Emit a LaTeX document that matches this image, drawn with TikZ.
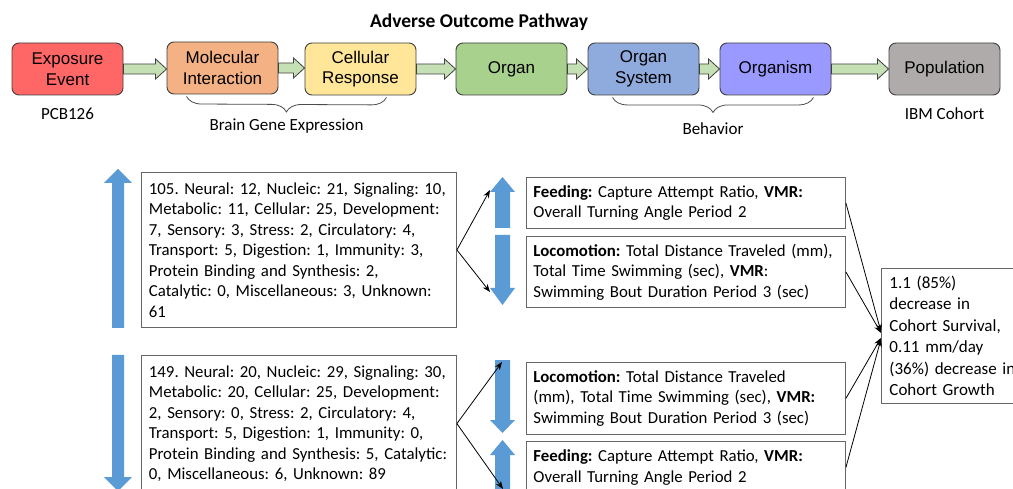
\documentclass[tikz,border=0pt]{standalone}
\usepackage{fontspec}
\setmainfont{Carlito}
\newfontfamily\arialfont{Liberation Sans}
\usepackage{tikz}
\usetikzlibrary{positioning,arrows.meta,calc,decorations.pathreplacing}

\definecolor{cExpo}{HTML}{FF6666}
\definecolor{cMole}{HTML}{F4B183}
\definecolor{cCell}{HTML}{FFE699}
\definecolor{cOrgan}{HTML}{A9D18E}
\definecolor{cSys}{HTML}{8FAADC}
\definecolor{cOrgm}{HTML}{9999FF}
\definecolor{cPop}{HTML}{AFABAB}
\definecolor{cFlow}{HTML}{C5E0B4}
\definecolor{cBlue}{HTML}{5B9BD5}

% green block arrow between two stages
\newcommand{\greenarrow}[2]{%
  \draw[flowarrow] let \p1=(#1.east), \p2=(#2.west) in
    (\x1,\y1+5pt) -- (\x2-11pt,\y1+5pt) -- (\x2-11pt,\y1+10pt) -- (\x2,\y1)
    -- (\x2-11pt,\y1-10pt) -- (\x2-11pt,\y1-5pt) -- (\x1,\y1-5pt) -- cycle;}
% vertical blue arrow: x, tip, head base, tail, shaft half width, head half width
\newcommand{\blockarrow}[6]{%
  \fill[blueshape] (#1,#2) -- (#1+#6,#3) -- (#1+#5,#3) -- (#1+#5,#4)
    -- (#1-#5,#4) -- (#1-#5,#3) -- (#1-#6,#3) -- cycle;}

\begin{document}
\frenchspacing
\begin{tikzpicture}[
  x=1pt, y=-1pt,
  stage/.style={draw=black!75,line width=0.9pt,rounded corners=7pt,
    minimum width=111pt,minimum height=52pt,inner sep=2pt,align=center,
    font=\arialfont\fontsize{17}{20.5}\selectfont},
  tag/.style={font=\fontsize{17}{20}\selectfont},
  flowarrow/.style={draw=black!75,fill=cFlow,line width=0.8pt,line join=miter},
  blueshape/.style={fill=cBlue},
  genebox/.style={draw=black!60,line width=0.9pt,anchor=north west,align=left,
    inner xsep=7.5pt,text width=300pt,font=\fontsize{16.8}{20.5}\selectfont},
  endbox/.style={draw=black!60,line width=0.9pt,anchor=north west,align=left,
    inner xsep=7pt,text width=305pt,font=\fontsize{16.8}{20.5}\selectfont},
  conn/.style={-{Stealth[length=8pt,width=6pt]},line width=0.8pt},
  bracel/.style={draw=black!70,line width=0.8pt,
    decorate,decoration={brace,mirror,amplitude=15pt}}
]
\fill[white] (0,0) rectangle (1013,489);
\useasboundingbox (0,0) rectangle (1013,489);
\clip (0,0) rectangle (1013,489);

% Title
\node[font=\bfseries\fontsize{19.5}{22}\selectfont] (title) at (479,22) {Adverse Outcome Pathway};

% Pathway stages
\foreach \nm/\col/\lbl/\x/\y in {EE/cExpo/{Exposure\\Event}/67.5/69,
    MI/cMole/{Molecular\\Interaction}/222.5/68, CR/cCell/{Cellular\\Response}/360.5/69,
    OR/cOrgan/{Organ}/511.5/69, OS/cSys/{Organ\\System}/643.5/69,
    OM/cOrgm/{Organism}/775.5/69, PO/cPop/{Population}/944.5/69}{
  \node[stage,fill=\col] (\nm) at (\x,\y) {\lbl};
}
\foreach \a/\b in {EE/MI,MI/CR,CR/OR,OR/OS,OS/OM,OM/PO}{ \greenarrow{\a}{\b} }

% Stage annotations
\node[tag,below=9pt of EE] (pcb) {PCB126};
\node[tag,below=9pt of PO] (ibm) {IBM Cohort};
\draw[bracel] ($(MI.south west)+(20,2)$) -- node[tag,midway,below=18pt] (bge) {Brain Gene Expression}
  ($(CR.south east)+(-30,2)$);
\draw[bracel] ($(OS.south west)+(25,2)$) -- node[tag,midway,below=22pt] (beh) {Behavior}
  ($(OM.south east)+(-18,2)$);

% Gene expression boxes
\node[genebox,minimum height=155pt] (G1) at (141,172) {105. Neural: 12, Nucleic: 21, Signaling: 10,\\
  Metabolic: 11, Cellular: 25, Development:\\7, Sensory: 3, Stress: 2, Circulatory: 4,\\
  Transport: 5, Digestion: 1, Immunity: 3,\\Protein Binding and Synthesis: 2,\\
  Catalytic: 0, Miscellaneous: 3, Unknown:\\61};
\node[genebox,inner ysep=10pt] (G2) at (141,355) {149. Neural: 20, Nucleic: 29, Signaling: 30,\\
  Metabolic: 20, Cellular: 25, Development:\\2, Sensory: 0, Stress: 2, Circulatory: 4,\\
  Transport: 5, Digestion: 1, Immunity: 0,\\Protein Binding and Synthesis: 5, Catalytic:\\
  0, Miscellaneous: 6, Unknown: 89};

% Blue up/down arrows
\foreach \cx/\tip/\hb/\tail/\sh/\hh in {118/169/183/328/6/14, 118/491/477/355/6/14,
    502.5/177/192/228/7.5/12.5, 502.5/305/288/235/7.5/12.5,
    502.5/433/420/360/7.5/12.5, 502.5/440/455/500/7.5/12.5}{
  \blockarrow{\cx}{\tip}{\hb}{\tail}{\sh}{\hh}
}

% Behaviour endpoint boxes
\node[endbox,minimum height=51pt] (F1) at (526,177) {\textbf{Feeding:} Capture Attempt Ratio, \textbf{VMR:}\\
  Overall Turning Angle Period 2};
\node[endbox,minimum height=71pt] (L1) at (526,236) {\textbf{Locomotion:} Total Distance Traveled (mm),\\
  Total Time Swimming (sec), \textbf{VMR}:\\Swimming Bout Duration Period 3 (sec)};
\node[endbox,minimum height=72pt] (L2) at (526,362) {\textbf{Locomotion:} Total Distance Traveled\\
  (mm), Total Time Swimming (sec), \textbf{VMR:}\\Swimming Bout Duration Period 3 (sec)};
\node[endbox,minimum height=52pt] (F2) at (526,441) {\textbf{Feeding:} Capture Attempt Ratio, \textbf{VMR:}\\
  Overall Turning Angle Period 2};

% Cohort result
\node[draw=black!60,line width=0.9pt,anchor=north west,align=left,inner xsep=8pt,
  text width=150pt,minimum height=135pt,font=\fontsize{17}{21.5}\selectfont] (R) at (881,268)
  {1.1 (85\%)\\decrease in\\Cohort Survival,\\0.11 mm/day\\(36\%) decrease in\\Cohort Growth};

% Connectors
\coordinate (t1) at (490,190);
\coordinate (b1) at (490,292);
\coordinate (t2) at (502,362);
\coordinate (b2) at (503,489);
\draw[conn] (G1.east) -- (t1);
\draw[conn] (G1.east) -- (b1);
\draw[conn] (G2.east) -- (t2);
\draw[conn] (G2.east) -- (b2);
\draw[conn] (F1.east) -- ($(R.west)+(0,-4)$);
\draw[conn] (L1.east) -- ($(R.west)+(0,-3)$);
\draw[conn] (L2.east) -- ($(R.west)+(0,2)$);
\draw[conn] (F2.east) -- ($(R.west)+(0,3)$);
\end{tikzpicture}
\end{document}
